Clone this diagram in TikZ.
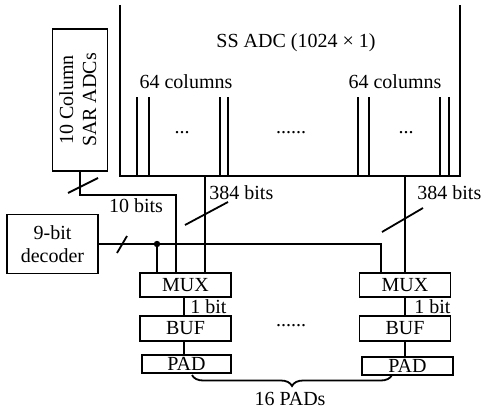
\documentclass[tikz,border=0pt]{standalone}
\usepackage{fontspec}
\setmainfont{Liberation Serif}
\usepackage{tikz}
\usetikzlibrary{calc}
\usetikzlibrary{decorations.pathreplacing}

\tikzset{
  blk/.style={draw, line width=1.8pt, inner sep=0pt, minimum width=91pt},
  lbl/.style={inner sep=1.5pt}
}

\begin{document}
\begin{tikzpicture}[x=1pt, y=-1pt, line width=1.8pt,
  font=\fontsize{20}{23}\selectfont]
\useasboundingbox (0,0) rectangle (482,412);

% SS ADC
\coordinate (TL) at (120,5); \coordinate (BL) at (120,176);
\coordinate (TR) at (460,5); \coordinate (BR) at (460,176);
\draw (TL) -- (BL) -- (BR) -- (TR);
\node (title) at (296,43) {SS ADC (1024 × 1)};
\node (colL) at (186,82) {64 columns};
\node (colR) at (395,82) {64 columns};
\foreach \x in {137,149,220,228,358,369,440,449}
  \draw (\x,97) -- (\x,176);
\node (dotA) at (182,133) {...};
\node (dotB) at (291,133) {......};
\node (dotC) at (406,133) {...};

% blocks
\node[blk, minimum width=55pt, minimum height=142pt] (sar) at (80,100)
  {\rotatebox{90}{\begin{tabular}{@{}c@{}}10 Column\\ SAR ADCs\end{tabular}}};
\node[blk, minimum height=59pt, align=center] (dec) at (52.5,244) {9-bit\\ decoder};

\node[blk, minimum height=24pt] (muxL) at (185.5,285) {MUX};
\node[blk, minimum height=25pt] (bufL) at (185.5,328.5) {BUF};
\node[blk, minimum width=89pt, minimum height=18pt] (padL) at (186.5,364) {PAD};
\node[blk, minimum height=24pt] (muxR) at (405,285) {MUX};
\node[blk, minimum height=25pt] (bufR) at (405,328.5) {BUF};
\node[blk, minimum height=18pt] (padR) at (407.5,366) {PAD};

% connections
\coordinate (ssL) at (205,176); \coordinate (ssR) at (405,176);
\draw (ssL) -- (ssL |- muxL.north);
\draw (ssR) -- (muxR.north);
\coordinate (c10) at (176,195);
\draw (sar.south) |- (c10) -- (c10 |- muxL.north);
\coordinate (dR) at ($(muxR.north)+(-24,0)$);
\draw (dec.east) -| (dR);
\coordinate (tap) at (157,244);
\fill (tap) circle (3.2);
\draw (tap) -- (tap |- muxL.north);
\draw (muxL.south -| 184,0) -- (bufL.north -| 184,0);
\draw (bufL.south -| 184,0) -- (padL.north -| 184,0);
\draw (muxR) -- (bufR); \draw (bufR.south) -- (bufR.south |- padR.north);

% bus slashes
\draw (68,193) -- (98,178);
\draw (117,253) -- (127,236);
\draw (185,225) -- (228,202);
\draw (382,232) -- (423,208);

\node[lbl, anchor=west] (bL) at (207,193) {384 bits};
\node[lbl, anchor=west] (bR) at (415,193) {384 bits};
\node[lbl] (b10) at (136,206) {10 bits};
\node[lbl, anchor=west] (b1L) at (188,307) {1 bit};
\node[lbl, anchor=west] (b1R) at (412,307) {1 bit};
\node (dotD) at (291,326) {......};

\draw[decorate, decoration={brace, mirror, amplitude=11pt}] (192,375) -- (392,375);
\node (pads) at (290,399) {16 PADs};

\end{tikzpicture}
\end{document}
